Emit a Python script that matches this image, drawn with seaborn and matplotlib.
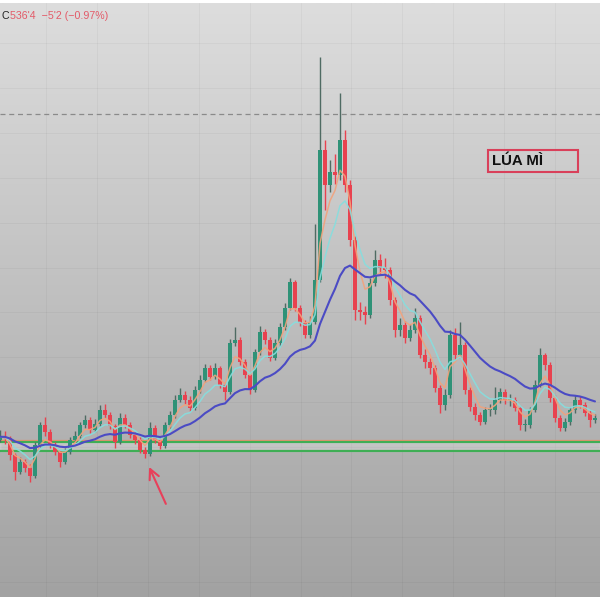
import numpy as np
import pandas as pd
import matplotlib
matplotlib.use("Agg")
import matplotlib.pyplot as plt
import seaborn as sns
from matplotlib.colors import LinearSegmentedColormap
from matplotlib.patches import Rectangle

# Wheat price, one candle per ~week
close = [508, 505, 462, 420, 445, 430, 410, 488, 538, 520,
         488, 470, 445, 470, 500, 510, 538, 550, 525, 540,
         575, 562, 535, 495, 555, 538, 512, 500, 475, 465,
         530, 500, 485, 538, 562, 600, 612, 600, 580, 625,
         650, 680, 658, 680, 638, 620, 742, 750, 695, 662,
         625, 720, 770, 750, 705, 742, 782, 830, 895, 830,
         792, 762, 795, 900, 1225, 1138, 1170, 1162, 1250, 1138,
         1000, 825, 820, 812, 892, 950, 930, 925, 850, 775,
         788, 755, 775, 805, 712, 695, 680, 630, 588, 612,
         762, 712, 738, 625, 582, 562, 545, 575, 575, 600,
         620, 600, 600, 580, 538, 538, 575, 638, 712, 688,
         605, 555, 530, 545, 575, 600, 588, 568, 550, 555]
high = [525, 522, 510, 468, 458, 452, 440, 495, 545, 558,
        528, 495, 475, 480, 508, 522, 545, 562, 558, 552,
        588, 590, 570, 540, 568, 565, 545, 520, 508, 482,
        545, 538, 510, 545, 572, 612, 630, 622, 610, 635,
        662, 690, 688, 692, 685, 645, 752, 782, 758, 702,
        670, 728, 785, 778, 758, 752, 792, 842, 905, 900,
        838, 800, 810, 1040, 1457, 1250, 1200, 1215, 1368, 1275,
        1150, 1010, 845, 835, 905, 975, 965, 955, 932, 858,
        805, 798, 790, 830, 812, 728, 705, 688, 638, 628,
        775, 780, 795, 745, 632, 592, 570, 582, 590, 632,
        630, 628, 615, 608, 585, 552, 582, 650, 730, 718,
        695, 612, 562, 555, 582, 612, 610, 595, 575, 565]
low = [495, 490, 450, 400, 415, 420, 395, 405, 482, 510,
       480, 462, 432, 440, 465, 495, 505, 530, 518, 520,
       535, 555, 528, 480, 490, 530, 505, 490, 468, 455,
       460, 492, 478, 480, 530, 555, 595, 590, 572, 575,
       618, 645, 650, 652, 630, 600, 615, 735, 688, 655,
       615, 620, 712, 740, 698, 700, 735, 775, 825, 822,
       785, 755, 755, 790, 895, 1075, 1120, 1140, 1150, 1120,
       985, 800, 800, 790, 805, 885, 915, 905, 838, 758,
       760, 742, 748, 768, 705, 680, 665, 620, 568, 575,
       605, 700, 705, 615, 572, 550, 538, 540, 560, 565,
       592, 590, 585, 572, 525, 522, 530, 570, 632, 675,
       595, 545, 522, 522, 538, 568, 580, 560, 532, 542]
open_ = [500] + close[:-1]

support_hi = 494
support_lo = 472
resist = 500
prev_high = 1315

df = pd.DataFrame({"open": open_, "high": high, "low": low, "close": close})
df["i"] = np.arange(len(df))
df["ma_fast"] = df["close"].ewm(span=4, adjust=False).mean()
df["ma_mid"] = df["close"].ewm(span=8, adjust=False).mean()
df["ma_slow"] = df["close"].ewm(span=22, adjust=False).mean()

sns.set_style("white")
fig = plt.figure(figsize=(6, 6), dpi=100, facecolor="white")
ax = fig.add_axes([0, 3 / 600, 1, 594 / 600])

# grey gradient background
cmap = LinearSegmentedColormap.from_list("bg", ["#a2a2a2", "#dddddd"])
ax.imshow(np.linspace(0, 1, 256).reshape(-1, 1), cmap=cmap, aspect="auto",
          extent=[0, 1, 0, 1], transform=ax.transAxes, origin="lower", zorder=0)

# support zone and reference lines
ax.axhspan(support_lo, support_hi, color="white", alpha=0.25, zorder=1)
ax.axhline(resist, color="#e8906e", lw=0.9, zorder=1.5)
ax.axhline(support_hi, color="#3fae55", lw=1.6, zorder=1.6)
ax.axhline(support_lo, color="#3fae55", lw=1.6, zorder=1.6)
ax.axhline(prev_high, color="#8a8a8a", lw=0.9, ls=(0, (4, 3)), zorder=1.5)

# candles
up = df["close"] >= df["open"]
ax.vlines(df["i"][up], df["low"][up], df["high"][up], color="#4f6b63", lw=1.0, zorder=3)
ax.vlines(df["i"][~up], df["low"][~up], df["high"][~up], color="#e8424f", lw=1.0, zorder=3)
body_lo = np.minimum(df["open"], df["close"])
body_h = np.maximum(np.abs(df["close"] - df["open"]), 2)
ax.bar(df["i"][up], body_h[up], bottom=body_lo[up], width=0.7, color="#2f9277",
       edgecolor="none", linewidth=0, zorder=3.2)
ax.bar(df["i"][~up], body_h[~up], bottom=body_lo[~up], width=0.7, color="#e8424f",
       edgecolor="none", linewidth=0, zorder=3.2)

# moving averages
sns.lineplot(data=df, x="i", y="ma_fast", ax=ax, color="#f2a27c", lw=1.1, alpha=0.9, zorder=3.5)
sns.lineplot(data=df, x="i", y="ma_mid", ax=ax, color="#86dede", lw=1.1, alpha=0.9, zorder=3.6)
sns.lineplot(data=df, x="i", y="ma_slow", ax=ax, color="#4b4bc4", lw=1.5, zorder=4)

# arrow pointing at the low
ax.annotate("", xy=(29.6, low[29] - 16), xytext=(33.4, low[29] - 121),
            arrowprops=dict(arrowstyle="->", color="#e8405a", lw=1.5, mutation_scale=18),
            zorder=5)

ax.set_xlim(0, 120)
ax.set_ylim(107.5, 1592.5)
ax.set_xticks(np.arange(9.2, 120, 10.18))
ax.set_yticks(np.arange(1492.5, 100, -112.25))
ax.grid(True, color="#000000", alpha=0.035, lw=0.8)
ax.set_axisbelow(True)
ax.tick_params(length=0, labelbottom=False, labelleft=False)
ax.set_xlabel("")
ax.set_ylabel("")
for s in ax.spines.values():
    s.set_visible(False)

# header and label
fig.text(1 / 600, 1 - 16 / 600, "C", color="#222222", fontsize=7.7,
         family="Liberation Sans", va="center", ha="left")
fig.text(10 / 600, 1 - 16 / 600, "536'4  \u22125'2 (\u22120.97%)", color="#e35a68",
         fontsize=7.7, family="Liberation Sans", va="center", ha="left")
fig.patches.append(Rectangle((488 / 600, 1 - 172 / 600), 90 / 600, 22 / 600,
                             transform=fig.transFigure, fill=False,
                             edgecolor="#d9405a", lw=1.5))
fig.text(492 / 600, 1 - 161 / 600, "LÚA MÌ", color="#111111", fontsize=10.8,
         family="Liberation Sans", weight="bold", va="center", ha="left")

fig.savefig("out.png", dpi=100, facecolor="white")
